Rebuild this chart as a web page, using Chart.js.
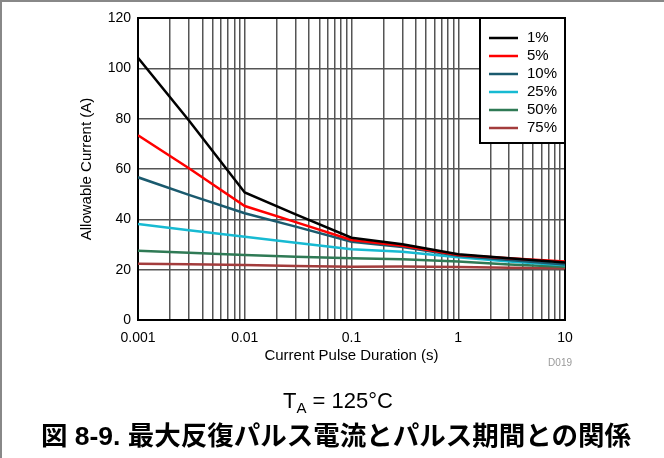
<!DOCTYPE html>
<html>
<head>
<meta charset="utf-8">
<script src="https://cdn.jsdelivr.net/npm/chart.js@4.4.1/dist/chart.umd.min.js"></script>
<style>
  html, body { margin: 0; padding: 0; background: #fff; }
  .wrap {
    position: relative; width: 664px; height: 458px; box-sizing: border-box;
    border-left: 2px solid #888; border-top: 2px solid #888;
    font-family: "Liberation Sans", Arial, sans-serif;
  }
  #myChart { position: absolute; left: -2px; top: -2px; }
  .note { position: absolute; color: #999; font-size: 10px; right: 92px; top: 355px; }
  .cond { position: absolute; left: 0; width: 672px; top: 388px; text-align: center; font-size: 22px; line-height: 1; }
  .cond sub { font-size: 15px; vertical-align: -5px; }
  .caption {
    position: absolute; left: 0; width: 668px; top: 421px; text-align: center;
    font-family: "Liberation Sans", "Noto Sans CJK JP", sans-serif;
    font-weight: bold; font-size: 26.5px; line-height: 1;
  }
</style>
</head>
<body>
<div class="wrap">
  <canvas id="myChart" width="664" height="458"></canvas>
  <div class="note">D019</div>
  <div class="cond">T<sub>A</sub> = 125°C</div>
  <div class="caption">図 8-9. 最大反復パルス電流とパルス期間との関係</div>
</div>
<script>
const durations = [0.001, 0.003, 0.01, 0.03, 0.1, 0.3, 1, 3, 10];
const duty1 = [104.2, 79.3, 50.7, 42.0, 32.7, 30.1, 26.1, 24.5, 22.8];
const duty5 = [73.4, 60.3, 45.3, 38.9, 31.8, 29.5, 25.8, 24.5, 23.2];
const duty10 = [56.7, 49.7, 42.4, 37.1, 31.1, 29.0, 25.5, 23.8, 22.1];
const duty25 = [38.1, 35.7, 33.1, 30.7, 28.1, 27.1, 24.9, 23.2, 21.8];
const duty50 = [27.5, 26.7, 25.8, 25.1, 24.5, 24.1, 23.2, 22.1, 21.2];
const duty75 = [22.4, 22.2, 21.9, 21.5, 21.2, 21.3, 21.1, 20.8, 20.6];

const seriesLabels = ['1%', '5%', '10%', '25%', '50%', '75%'];
const seriesColors = ['#000000', '#ff0000', '#1a5a6e', '#17bad2', '#2f7a55', '#a33c3c'];
const xTickValues = [0.001, 0.01, 0.1, 1, 10];
const xTickLabels = ['0.001', '0.01', '0.1', '1', '10'];

const FONT = '"Liberation Sans", Arial, sans-serif';

const isMajor = (v) => Math.abs(Math.log10(v) - Math.round(Math.log10(v))) < 1e-6;

// grid lines at 1..9 of each decade
const gridValues = [];
for (let i = 0; i < xTickValues.length - 1; i++) {
  for (let m = 1; m < 10; m++) gridValues.push(xTickValues[i] * m);
}
gridValues.push(xTickValues[xTickValues.length - 1]);

const allSeries = [duty1, duty5, duty10, duty25, duty50, duty75];

const plotFrame = {
  id: 'plotFrame',
  beforeDatasetsDraw(chart) {
    const {ctx, chartArea: a} = chart;
    ctx.save();
    ctx.strokeStyle = '#000';
    ctx.lineWidth = 2;
    ctx.strokeRect(a.left, a.top, a.right - a.left, a.bottom - a.top);
    ctx.restore();
  }
};

const boxLegend = {
  id: 'boxLegend',
  afterDatasetsDraw(chart) {
    const {ctx, chartArea: a} = chart;
    const w = 85, h = 125;
    const x0 = a.right - w, y0 = a.top;
    ctx.save();
    ctx.fillStyle = '#fff';
    ctx.fillRect(x0, y0, w, h);
    ctx.strokeStyle = '#000';
    ctx.lineWidth = 2;
    ctx.strokeRect(x0, y0, w, h);
    ctx.font = '15px ' + FONT;
    ctx.textBaseline = 'middle';
    chart.data.datasets.forEach((ds, i) => {
      const y = y0 + 20 + i * 18;
      ctx.strokeStyle = ds.borderColor;
      ctx.lineWidth = 2.5;
      ctx.beginPath();
      ctx.moveTo(x0 + 9, y);
      ctx.lineTo(x0 + 38, y);
      ctx.stroke();
      ctx.fillStyle = '#000';
      ctx.fillText(ds.label, x0 + 47, y);
    });
    ctx.restore();
  }
};

const ctx = document.getElementById('myChart');

new Chart(ctx, {
  type: 'line',
  data: {
    datasets: allSeries.map((vals, i) => ({
      label: seriesLabels[i],
      data: durations.map((d, j) => ({x: d, y: vals[j]})),
      borderColor: seriesColors[i],
      borderWidth: 2.5,
      pointRadius: 0,
      tension: 0,
      fill: false,
    }))
  },
  options: {
    responsive: false,
    animation: false,
    layout: {
      padding: {left: 78, top: 18, right: 99, bottom: 93}
    },
    plugins: {
      legend: {display: false},
      tooltip: {enabled: false}
    },
    scales: {
      x: {
        type: 'logarithmic',
        min: 0.001,
        max: 10,
        afterBuildTicks: (scale) => {
          scale.ticks = gridValues.map(v => ({value: v, major: isMajor(v)}));
        },
        afterFit: (scale) => { scale.height = 45; },
        ticks: {
          autoSkip: false,
          maxRotation: 0,
          padding: 10,
          color: '#000',
          font: {family: FONT, size: 14},
          callback: (value) => {
            const k = xTickValues.findIndex(t => Math.abs(t - value) / t < 1e-6);
            return k >= 0 ? xTickLabels[k] : '';
          }
        },
        grid: {color: '#555', lineWidth: 1.5, drawTicks: false},
        border: {color: '#000', width: 2},
        title: {
          display: true,
          text: 'Current Pulse Duration (s)',
          color: '#000',
          padding: 0,
          font: {family: FONT, size: 15}
        }
      },
      y: {
        min: 0,
        max: 120,
        afterFit: (scale) => { scale.width = 60; },
        ticks: {
          stepSize: 20,
          padding: 7,
          color: '#000',
          font: {family: FONT, size: 14}
        },
        grid: {color: '#555', lineWidth: 1.5, drawTicks: false},
        border: {color: '#000', width: 2},
        title: {
          display: true,
          text: 'Allowable Current (A)',
          color: '#000',
          padding: 0,
          font: {family: FONT, size: 15}
        }
      }
    }
  },
  plugins: [plotFrame, boxLegend]
});
</script>
</body>
</html>
